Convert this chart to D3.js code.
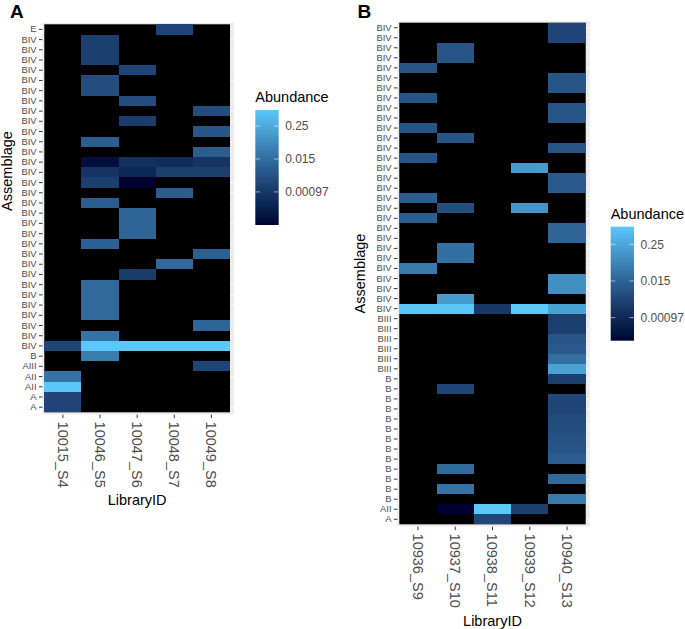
<!DOCTYPE html>
<html>
<head>
<meta charset="utf-8">
<script src="https://cdn.jsdelivr.net/npm/d3@7"></script>
<style>
  html, body { margin: 0; padding: 0; background: #ffffff; }
  svg { display: block; font-family: "Liberation Sans", Arial, Helvetica, sans-serif; }
</style>
</head>
<body>
<svg id="chart" width="685" height="629"></svg>
<script>
// ---------------- DATA ----------------
const libA = ["10015_S4", "10046_S5", "10047_S6", "10048_S7", "10049_S8"];
const assemA = ["E",
  "BIV","BIV","BIV","BIV","BIV","BIV","BIV","BIV","BIV","BIV",
  "BIV","BIV","BIV","BIV","BIV","BIV","BIV","BIV","BIV","BIV",
  "BIV","BIV","BIV","BIV","BIV","BIV","BIV","BIV","BIV","BIV","BIV",
  "B","AIII","AII","AII","A","A"];
// rows top -> bottom, columns follow libA; 0 = not detected
const valuesA = [
  [0, 0, 0, 0.002, 0],
  [0, 0.0015, 0, 0, 0],
  [0, 0.0015, 0, 0, 0],
  [0, 0.0015, 0, 0, 0],
  [0, 0, 0.002, 0, 0],
  [0, 0.003, 0, 0, 0],
  [0, 0.003, 0, 0, 0],
  [0, 0, 0.003, 0, 0],
  [0, 0, 0, 0, 0.003],
  [0, 0, 0.0012, 0, 0],
  [0, 0, 0, 0, 0.005],
  [0, 0.007, 0, 0, 0],
  [0, 0, 0, 0, 0.007],
  [0, 0.0001, 0.0006, 0.0005, 0.0008],
  [0, 0.0008, 0.0004, 0.0015, 0.0015],
  [0, 0.0015, 0.00006, 0, 0],
  [0, 0, 0, 0.007, 0],
  [0, 0.007, 0, 0, 0],
  [0, 0, 0.01, 0, 0],
  [0, 0, 0.01, 0, 0],
  [0, 0, 0.01, 0, 0],
  [0, 0.008, 0, 0, 0],
  [0, 0, 0, 0, 0.008],
  [0, 0, 0, 0.012, 0],
  [0, 0, 0.0012, 0, 0],
  [0, 0.012, 0, 0, 0],
  [0, 0.012, 0, 0, 0],
  [0, 0.012, 0, 0, 0],
  [0, 0.012, 0, 0, 0],
  [0, 0, 0, 0, 0.01],
  [0, 0.02, 0, 0, 0],
  [0.002, 0.96, 0.97, 0.97, 0.97],
  [0, 0.03, 0, 0, 0],
  [0, 0, 0, 0, 0.002],
  [0.02, 0, 0, 0, 0],
  [0.9, 0, 0, 0, 0],
  [0.002, 0, 0, 0, 0],
  [0.002, 0, 0, 0, 0]
];

const libB = ["10936_S9", "10937_S10", "10938_S11", "10939_S12", "10940_S13"];
const assemB = [
  "BIV","BIV","BIV","BIV","BIV","BIV","BIV","BIV","BIV","BIV",
  "BIV","BIV","BIV","BIV","BIV","BIV","BIV","BIV","BIV","BIV",
  "BIV","BIV","BIV","BIV","BIV","BIV","BIV","BIV","BIV",
  "BIII","BIII","BIII","BIII","BIII","BIII",
  "B","B","B","B","B","B","B","B","B","B","B","B","B",
  "AII","A"];
const valuesB = [
  [0, 0, 0, 0, 0.004],
  [0, 0, 0, 0, 0.004],
  [0, 0.008, 0, 0, 0],
  [0, 0.008, 0, 0, 0],
  [0.008, 0, 0, 0, 0],
  [0, 0, 0, 0, 0.008],
  [0, 0, 0, 0, 0.008],
  [0.008, 0, 0, 0, 0],
  [0, 0, 0, 0, 0.008],
  [0, 0, 0, 0, 0.008],
  [0.008, 0, 0, 0, 0],
  [0, 0.008, 0, 0, 0],
  [0, 0, 0, 0, 0.008],
  [0.008, 0, 0, 0, 0],
  [0, 0, 0, 0.15, 0],
  [0, 0, 0, 0, 0.01],
  [0, 0, 0, 0, 0.01],
  [0.012, 0, 0, 0, 0],
  [0, 0.006, 0, 0.12, 0],
  [0.012, 0, 0, 0, 0],
  [0, 0, 0, 0, 0.015],
  [0, 0, 0, 0, 0.015],
  [0, 0.025, 0, 0, 0],
  [0, 0.025, 0, 0, 0],
  [0.04, 0, 0, 0, 0],
  [0, 0, 0, 0, 0.1],
  [0, 0, 0, 0, 0.1],
  [0, 0.15, 0, 0, 0],
  [0.9, 0.85, 0.002, 0.95, 0.2],
  [0, 0, 0, 0, 0.003],
  [0, 0, 0, 0, 0.003],
  [0, 0, 0, 0, 0.008],
  [0, 0, 0, 0, 0.01],
  [0, 0, 0, 0, 0.025],
  [0, 0, 0, 0, 0.2],
  [0, 0, 0, 0, 0.003],
  [0, 0.004, 0, 0, 0],
  [0, 0, 0, 0, 0.004],
  [0, 0, 0, 0, 0.004],
  [0, 0, 0, 0, 0.005],
  [0, 0, 0, 0, 0.006],
  [0, 0, 0, 0, 0.007],
  [0, 0, 0, 0, 0.008],
  [0, 0, 0, 0, 0.012],
  [0, 0.02, 0, 0, 0],
  [0, 0, 0, 0, 0.02],
  [0, 0.03, 0, 0, 0],
  [0, 0, 0, 0, 0.04],
  [0, 0.00017, 0.95, 0.003, 0],
  [0, 0, 0.004, 0, 0]
];

const legendTicks = [0.25, 0.015625, 0.0009765625];
const legendTickLabels = ["0.25", "0.015", "0.00097"];

// ---------------- DRAWING ----------------
const LOW = "#000033", HIGH = "#5BC8FB";
const svg = d3.select("#chart");
svg.append("rect").attr("width", 685).attr("height", 629).attr("fill", "#ffffff");

function drawPanel(cfg) {
  const { libs, labels, values, x0, x1, y0, y1, id } = cfg;
  const g = svg.append("g");
  const rowIdx = labels.map((d, i) => i);
  const x = d3.scaleBand().domain(libs).range([x0, x1]);
  const y = d3.scaleBand().domain(rowIdx).range([y0, y1]);

  const nonZero = values.flat().filter(v => v > 0);
  const ext = d3.extent(nonZero);
  const tScale = d3.scaleLog().base(2).domain(ext).range([0, 1]);
  const interp = d3.interpolateLab(LOW, HIGH);
  const color = v => interp(tScale(v));

  // panel background with grid
  const bg = { l: x0 - 2, r: x1 + 4, t: y0 - 1.5, b: y1 + 2 };
  g.append("rect").attr("x", bg.l).attr("y", bg.t)
    .attr("width", bg.r - bg.l).attr("height", bg.b - bg.t).attr("fill", "#ebebeb");
  g.selectAll("line.grid").data(rowIdx).enter().append("line")
    .attr("x1", bg.l).attr("x2", bg.r)
    .attr("y1", d => y(d) + y.bandwidth() / 2).attr("y2", d => y(d) + y.bandwidth() / 2)
    .attr("stroke", "#ffffff").attr("stroke-width", 0.8);

  // NA (zero) cells are black
  g.append("rect").attr("x", x0).attr("y", y0)
    .attr("width", x1 - x0).attr("height", y1 - y0).attr("fill", "#000000");

  const cells = [];
  values.forEach((row, i) => row.forEach((v, j) => { if (v > 0) cells.push({ i, j, v }); }));
  g.selectAll("rect.cell").data(cells).enter().append("rect")
    .attr("x", d => x(libs[d.j])).attr("y", d => y(d.i))
    .attr("width", x.bandwidth()).attr("height", y.bandwidth())
    .attr("fill", d => color(d.v))
    .attr("shape-rendering", "crispEdges");

  // y axis
  const yAxis = d3.axisLeft(y).tickSize(3.5).tickPadding(2.5).tickFormat(i => labels[i]);
  const ya = g.append("g").attr("transform", `translate(${x0 - 1.8},0)`).call(yAxis);
  ya.select(".domain").remove();
  ya.selectAll("line").attr("stroke", "#333333").attr("stroke-width", 1);
  ya.selectAll("text").attr("fill", "#4d4d4d").attr("font-size", "9.4px")
    .attr("font-family", "'Liberation Sans', Arial, sans-serif");

  // x axis
  const xAxis = d3.axisBottom(x).tickSize(3.5).tickPadding(0);
  const xa = g.append("g").attr("transform", `translate(0,${y1 + 2.3})`).call(xAxis);
  xa.select(".domain").remove();
  xa.selectAll("line").attr("stroke", "#333333").attr("stroke-width", 1);
  xa.selectAll("text")
    .attr("fill", "#4d4d4d").attr("font-size", "14.5px")
    .attr("font-family", "'Liberation Sans', Arial, sans-serif")
    .attr("text-anchor", "start")
    .attr("transform", "translate(0,7) rotate(90)")
    .attr("x", 0).attr("y", 0).attr("dy", "0.35em");

  // axis titles
  g.append("text").attr("x", (x0 + x1) / 2).attr("y", cfg.xTitleY)
    .attr("text-anchor", "middle").attr("font-size", "14.5px").attr("fill", "#000")
    .text("LibraryID");
  g.append("text")
    .attr("transform", `translate(${cfg.yTitleX},${cfg.yTitleCY}) rotate(-90)`)
    .attr("text-anchor", "middle").attr("font-size", "14.5px").attr("fill", "#000")
    .text("Assemblage");

  // panel tag
  g.append("text").attr("x", cfg.tagX).attr("y", 18)
    .attr("font-size", "19px").attr("font-weight", "bold").attr("fill", "#000")
    .text(id);

  // legend
  const L = cfg.legend;
  const lg = svg.append("g");
  lg.append("text").attr("x", L.x).attr("y", L.titleY)
    .attr("font-size", "14.5px").attr("fill", "#000").text("Abundance");
  const gradId = "grad" + id;
  const grad = svg.append("defs").append("linearGradient").attr("id", gradId)
    .attr("x1", 0).attr("y1", 1).attr("x2", 0).attr("y2", 0);
  d3.range(0, 1.0001, 0.05).forEach(t => {
    grad.append("stop").attr("offset", t).attr("stop-color", interp(t));
  });
  lg.append("rect").attr("x", L.x).attr("y", L.y0).attr("width", L.w)
    .attr("height", L.y1 - L.y0).attr("fill", `url(#${gradId})`);
  const ls = d3.scaleLog().base(2).domain(ext).range([L.y1, L.y0]);
  const tk = lg.selectAll("g.tk").data(legendTicks).enter().append("g");
  tk.append("line").attr("x1", L.x).attr("x2", L.x + L.w / 5)
    .attr("y1", d => ls(d)).attr("y2", d => ls(d))
    .attr("stroke", "#ffffff").attr("stroke-opacity", 0.55).attr("stroke-width", 1);
  tk.append("line").attr("x1", L.x + L.w - L.w / 5).attr("x2", L.x + L.w)
    .attr("y1", d => ls(d)).attr("y2", d => ls(d))
    .attr("stroke", "#ffffff").attr("stroke-opacity", 0.55).attr("stroke-width", 1);
  tk.append("text").attr("x", L.x + L.w + 6.5).attr("y", d => ls(d)).attr("dy", "0.35em")
    .attr("font-size", "12px").attr("fill", "#4d4d4d")
    .text((d, i) => legendTickLabels[i]);
}

drawPanel({
  id: "A", libs: libA, labels: assemA, values: valuesA,
  x0: 44.3, x1: 230.0, y0: 24.3, y1: 412.3,
  xTitleY: 505, yTitleX: 12.3, yTitleCY: 171, tagX: 10,
  legend: { x: 255.3, w: 23.4, y0: 110, y1: 225, titleY: 102 }
});
drawPanel({
  id: "B", libs: libB, labels: assemB, values: valuesB,
  x0: 399.3, x1: 585.7, y0: 22.7, y1: 524.3,
  xTitleY: 625.5, yTitleX: 365.3, yTitleCY: 273.5, tagX: 357.5,
  legend: { x: 610.7, w: 23.3, y0: 226.7, y1: 340.7, titleY: 219 }
});
</script>
</body>
</html>
